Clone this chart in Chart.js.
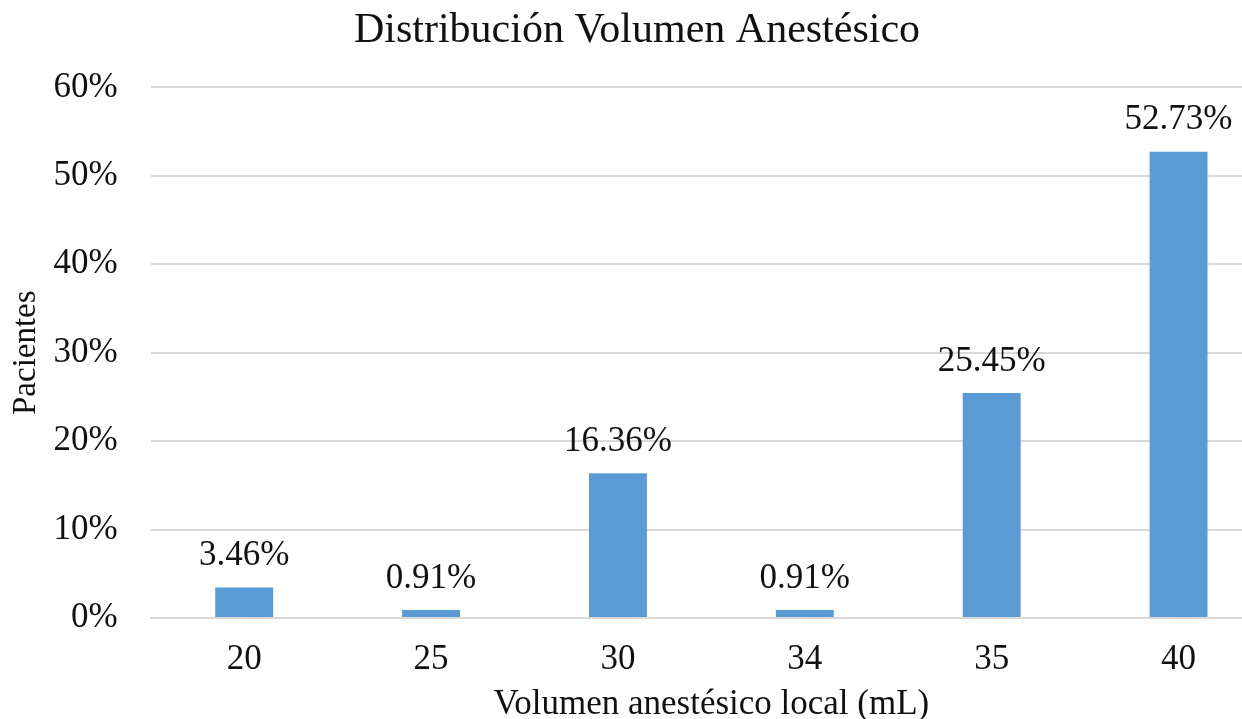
<!DOCTYPE html>
<html>
<head>
<meta charset="utf-8">
<script src="https://cdn.jsdelivr.net/npm/chart.js@4"></script>
<style>
  html, body { margin: 0; padding: 0; background: #fff; overflow: hidden; }
  #wrap { width: 1242px; height: 719px; overflow: hidden; }
</style>
</head>
<body>
<div id="wrap"><canvas id="barChart" width="1272" height="726"></canvas></div>
<script>
const categories = ['20', '25', '30', '34', '35', '40'];
const percentages = [3.46, 0.91, 16.36, 0.91, 25.45, 52.73];
const yTicks = [0, 10, 20, 30, 40, 50, 60];

const serif = '"Liberation Serif", "Times New Roman", serif';
const ink = '#111';

// labels above each bar
const barLabels = {
  id: 'barLabels',
  afterDatasetsDraw(chart) {
    const ctx = chart.ctx;
    const meta = chart.getDatasetMeta(0);
    ctx.save();
    ctx.font = '35px ' + serif;
    ctx.fillStyle = ink;
    ctx.textAlign = 'center';
    ctx.textBaseline = 'bottom';
    meta.data.forEach((bar, i) => {
      ctx.fillText(percentages[i].toFixed(2) + '%', bar.x, bar.y - 14);
    });
    ctx.restore();
  }
};

new Chart(document.getElementById('barChart').getContext('2d'), {
  type: 'bar',
  data: {
    labels: categories,
    datasets: [{
      data: percentages,
      backgroundColor: '#5B9BD5',
      categoryPercentage: 1,
      barPercentage: 0.31
    }]
  },
  options: {
    responsive: false,
    animation: false,
    layout: { padding: { left: 2, right: 0, top: 6, bottom: 0 } },
    plugins: {
      legend: { display: false },
      tooltip: { enabled: false },
      title: {
        display: true,
        text: 'Distribución Volumen Anestésico',
        color: ink,
        font: { family: serif, size: 42, weight: 'normal' },
        padding: { top: 0, bottom: 31 }
      }
    },
    scales: {
      x: {
        grid: { display: false },
        border: { color: '#d9d9d9', width: 2 },
        ticks: { color: ink, font: { family: serif, size: 35 }, padding: 13 },
        title: {
          display: true,
          text: 'Volumen anestésico local (mL)',
          color: ink,
          font: { family: serif, size: 35 },
          padding: { top: -10, bottom: 0 }
        }
      },
      y: {
        min: 0,
        max: 60,
        afterBuildTicks(axis) {
          axis.ticks = yTicks.map(v => ({ value: v }));
        },
        grid: { color: '#d9d9d9', lineWidth: 2, drawTicks: false },
        border: { display: false },
        ticks: {
          color: ink,
          font: { family: serif, size: 35 },
          padding: 33,
          callback: v => v + '%'
        },
        title: {
          display: true,
          text: 'Pacientes',
          color: ink,
          font: { family: serif, size: 33 },
          padding: { top: 5, bottom: -26 }
        }
      }
    }
  },
  plugins: [barLabels]
});
</script>
</body>
</html>
